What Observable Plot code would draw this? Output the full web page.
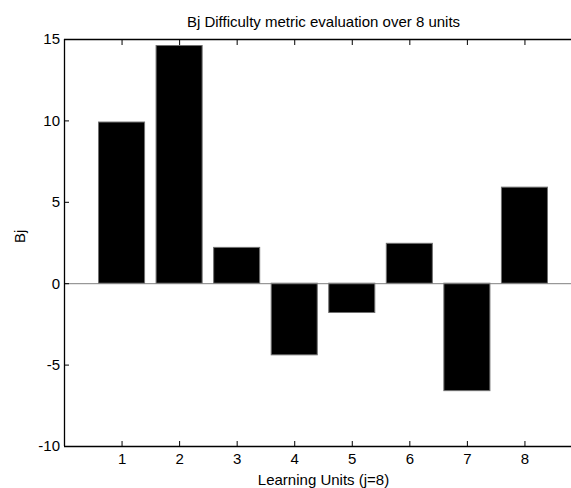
<!DOCTYPE html>
<html>
<head>
<meta charset="utf-8">
<script src="https://cdn.jsdelivr.net/npm/d3@7"></script>
<script src="https://cdn.jsdelivr.net/npm/@observablehq/plot@0.6"></script>
<style>
  html, body { margin: 0; padding: 0; background: #fff; overflow: hidden; }
  #chart svg { max-width: none !important; }
</style>
</head>
<body>
<div id="chart"></div>
<script>
const units = [1, 2, 3, 4, 5, 6, 7, 8];
const values = [9.9, 14.6, 2.2, -4.4, -1.8, 2.45, -6.6, 5.9];
const xTicks = [1, 2, 3, 4, 5, 6, 7, 8];
const yTicks = [-10, -5, 0, 5, 10, 15];
const xDomain = [0, 9];
const yDomain = [-10, 15];
const titleText = ["Bj Difficulty metric evaluation over 8 units"];
const xLabelText = ["Learning Units (j=8)"];
const yLabelText = ["Bj"];

const data = units.map((u, i) => ({unit: u, value: values[i]}));
const barHalf = 0.4;
const fs = 15;

const chart = Plot.plot({
  width: 582,
  height: 488,
  marginLeft: 64,
  marginRight: 0,
  marginTop: 39,
  marginBottom: 42,
  style: {fontFamily: "'Liberation Sans', Arial, Helvetica, sans-serif", fontSize: "15px", background: "#fff", color: "#000", overflow: "visible", maxWidth: "none"},
  x: {domain: xDomain, axis: null},
  y: {domain: yDomain, axis: null},
  marks: [
    Plot.rect(data, {x1: d => d.unit - barHalf, x2: d => d.unit + barHalf, y1: 0, y2: "value", fill: "#000", stroke: "#707070", strokeWidth: 1}),
    Plot.ruleY([0], {stroke: "#808080", strokeWidth: 1}),
    Plot.ruleX([xDomain[0]], {stroke: "#000", strokeWidth: 1.3}),
    Plot.ruleY([yDomain[0]], {stroke: "#000", strokeWidth: 1.3}),
    Plot.ruleY([yDomain[1]], {stroke: "#000", strokeWidth: 1.3}),
    Plot.axisX(xTicks, {anchor: "bottom", tickSize: -5, tickPadding: 12, label: null, fontSize: fs, tickFormat: d => String(d)}),
    Plot.axisX(xTicks, {anchor: "top", tickSize: -5, tickPadding: 0, label: null, fontSize: fs, tickFormat: () => ""}),
    Plot.axisY(yTicks, {anchor: "left", tickSize: -5, tickPadding: 9.5, label: null, fontSize: fs, tickFormat: d => String(d)}),
    Plot.text(titleText, {frameAnchor: "top", dy: -17.7, lineAnchor: "middle", fontSize: fs, text: d => d}),
    Plot.text(xLabelText, {frameAnchor: "bottom", dy: 33.7, lineAnchor: "middle", fontSize: fs, text: d => d}),
    Plot.text(yLabelText, {frameAnchor: "left", dx: -44, rotate: -90, lineAnchor: "middle", fontSize: fs, text: d => d})
  ]
});
document.getElementById("chart").appendChild(chart);
</script>
</body>
</html>
